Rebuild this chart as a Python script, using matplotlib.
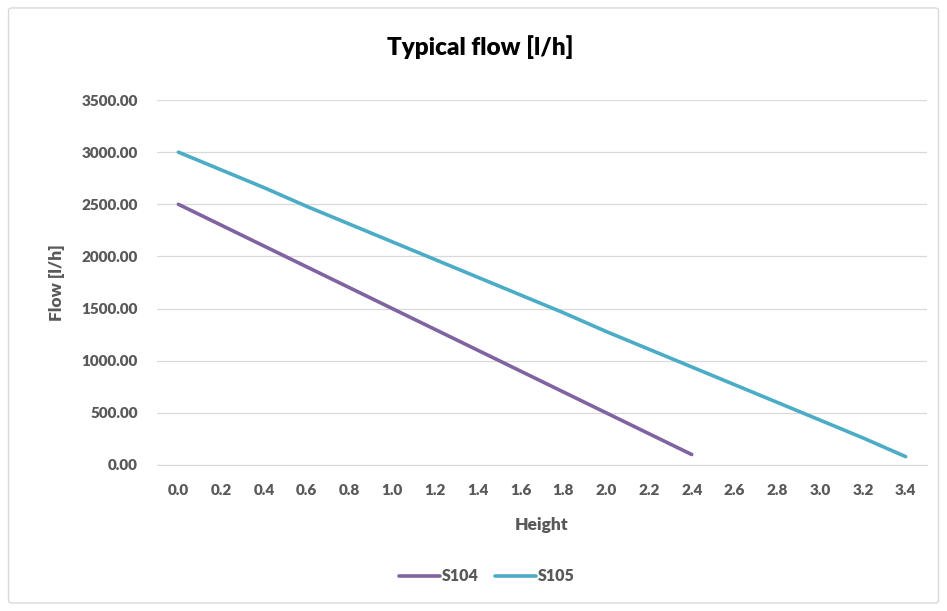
import matplotlib.pyplot as plt
from matplotlib.patches import FancyBboxPatch

plt.rcParams['font.family'] = ['Lato', 'DejaVu Sans']

heights = ['0.0', '0.2', '0.4', '0.6', '0.8', '1.0', '1.2', '1.4', '1.6', '1.8',
           '2.0', '2.2', '2.4', '2.6', '2.8', '3.0', '3.2', '3.4']
s104 = [2500, 2300, 2100, 1900, 1700, 1500, 1300, 1100, 900, 700, 500, 300, 100]
s105 = [3000, 2830, 2660, 2480, 2310, 2140, 1970, 1800, 1630, 1460, 1280, 1110,
        940, 770, 600, 430, 260, 80]
yticks = [0, 500, 1000, 1500, 2000, 2500, 3000, 3500]

grey = '#595959'
fig = plt.figure(figsize=(9.47, 6.11), dpi=100)
fig.patches.append(FancyBboxPatch((0.009, 0.013), 0.982, 0.974, boxstyle='round,pad=0,rounding_size=0.004',
                                  transform=fig.transFigure, fill=False, edgecolor='#D9D9D9', linewidth=1))
ax = fig.add_axes([0.1658, 0.239, 0.8131, 0.5973])

x = list(range(len(heights)))
ax.plot(x[:len(s104)], s104, color='#8064A2', linewidth=2.6, solid_capstyle='round', label='S104')
ax.plot(x[:len(s105)], s105, color='#4BACC6', linewidth=2.6, solid_capstyle='round', label='S105')

ax.set_xlim(-0.5, len(heights) - 0.5)
ax.set_ylim(0, 3500)
ax.set_xticks(x)
ax.set_xticklabels(heights)
ax.set_yticks(yticks)
ax.set_yticklabels(['%.2f' % v for v in yticks])
ax.grid(axis='y', color='#D9D9D9', linewidth=0.9)
ax.set_axisbelow(True)
for s in ['top', 'right', 'left']:
    ax.spines[s].set_visible(False)
ax.spines['bottom'].set_color('#D9D9D9')
ax.tick_params(length=0, labelsize=11, labelcolor=grey, pad=14)
ax.tick_params(axis='y', pad=14)
for lab in ax.get_xticklabels() + ax.get_yticklabels():
    lab.set_fontweight('heavy')

ax.set_xlabel('Height', fontsize=12.5, fontweight='heavy', color=grey, labelpad=14)
ax.set_ylabel('Flow [l/h]', fontsize=12.5, fontweight='heavy', color=grey, labelpad=12)
fig.text(0.507, 0.923, 'Typical flow [l/h]', ha='center', va='center', fontsize=17.5, fontweight='heavy')

leg = fig.legend(loc='center', bbox_to_anchor=(0.514, 0.057), ncol=2, frameon=False,
                 handlelength=2.6, handletextpad=0.1, columnspacing=1.0,
                 prop={'size': 11.5, 'weight': 'heavy'})
for t in leg.get_texts():
    t.set_color(grey)

fig.savefig('out.png', dpi=100)
